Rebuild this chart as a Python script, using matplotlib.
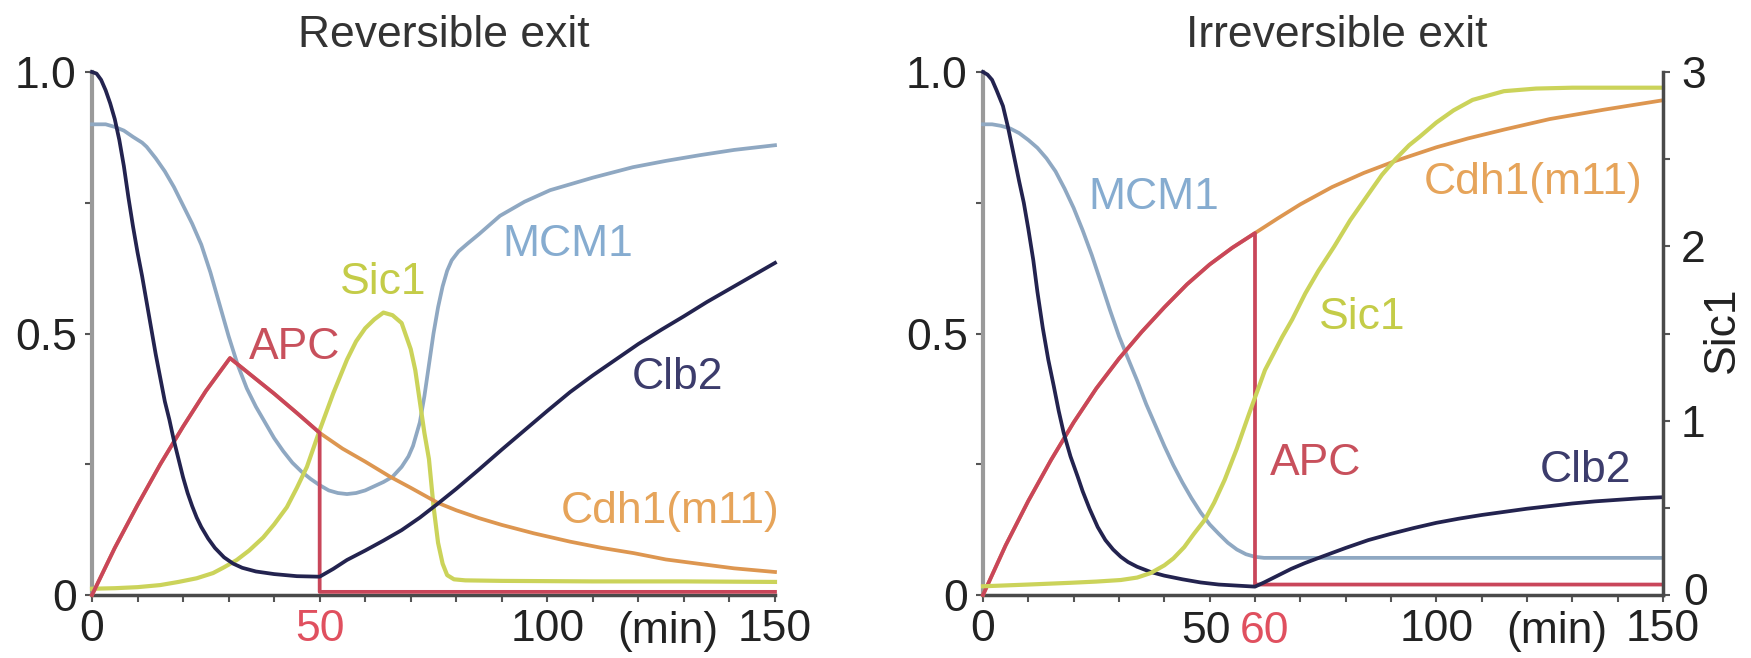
import numpy as np
import matplotlib.pyplot as plt
from matplotlib.transforms import blended_transform_factory, ScaledTranslation

plt.rcParams['font.family'] = ['Liberation Sans', 'DejaVu Sans']
plt.rcParams['font.size'] = 32

# ---------------- Reversible exit (left panel) ----------------
rev_clb2_t = [0, 1, 2, 3, 4, 5, 6, 7, 8, 9, 10, 11, 12, 13, 14, 15, 16, 17, 18, 19, 20,
              21, 22, 23, 24, 25.5, 27, 29, 31, 33, 36, 40, 45, 50, 53, 56, 60, 64, 68,
              72, 76, 80, 85, 90, 95, 100, 105, 110, 115, 120, 125, 130, 135, 140, 145, 150]
rev_clb2 = [1.0, 0.997, 0.985, 0.965, 0.94, 0.91, 0.87, 0.82, 0.76, 0.705, 0.655, 0.61,
            0.56, 0.51, 0.46, 0.415, 0.37, 0.335, 0.295, 0.26, 0.225, 0.195, 0.17, 0.148,
            0.13, 0.108, 0.09, 0.072, 0.06, 0.052, 0.045, 0.04, 0.036, 0.035, 0.05, 0.067,
            0.085, 0.104, 0.124, 0.148, 0.175, 0.203, 0.24, 0.278, 0.315, 0.352, 0.388,
            0.42, 0.45, 0.48, 0.507, 0.533, 0.56, 0.585, 0.61, 0.635]

rev_mcm1_t = [0, 3, 5, 7, 9, 11, 12, 14, 16, 18, 20, 22, 24, 26, 28, 30, 32, 34, 36, 38,
              40, 42, 44, 46, 48, 50, 52, 54, 56, 58, 60, 62, 64, 66, 68, 69.5, 70.5, 72,
              73, 74, 75, 76, 77, 78, 79, 80.5, 82.5, 85, 89.6, 95, 100.6, 110, 118.8,
              126, 133.5, 141, 150]
rev_mcm1 = [0.90, 0.90, 0.895, 0.888, 0.876, 0.865, 0.857, 0.835, 0.81, 0.78, 0.745,
            0.71, 0.67, 0.617, 0.556, 0.495, 0.44, 0.395, 0.36, 0.33, 0.30, 0.275, 0.253,
            0.236, 0.222, 0.21, 0.20, 0.195, 0.193, 0.195, 0.20, 0.208, 0.216, 0.226,
            0.245, 0.265, 0.285, 0.33, 0.38, 0.44, 0.50, 0.55, 0.59, 0.62, 0.64, 0.657,
            0.672, 0.69, 0.725, 0.752, 0.774, 0.798, 0.818, 0.83, 0.841, 0.851, 0.86]

rev_sic1_t = [0, 5, 10, 15, 19, 23, 26.6, 29, 31.8, 34.5, 37.6, 40, 42.8, 45, 47.2, 50,
              53, 56, 58, 60, 62, 64, 66, 68, 70, 71, 72, 73, 74, 75, 76, 77, 78, 79.5,
              82, 90, 110, 130, 150]
rev_sic1 = [0.012, 0.013, 0.015, 0.019, 0.025, 0.032, 0.042, 0.053, 0.067, 0.085, 0.11,
            0.135, 0.168, 0.205, 0.245, 0.315, 0.386, 0.45, 0.485, 0.51, 0.527, 0.54,
            0.535, 0.52, 0.47, 0.43, 0.37, 0.31, 0.26, 0.17, 0.10, 0.06, 0.038, 0.03,
            0.028, 0.027, 0.026, 0.026, 0.025]

rev_apc_t = [0, 5, 10, 15, 20, 25, 30.3, 35, 40, 45, 50, 50, 60, 100, 150]
rev_apc = [0, 0.09, 0.172, 0.25, 0.322, 0.39, 0.453, 0.42, 0.385, 0.348, 0.31,
           0.006, 0.006, 0.006, 0.006]

rev_cdh1_t = [0, 5, 10, 15, 20, 25, 30.3, 35, 40, 45, 50, 55, 60, 65.5, 70, 76, 80, 85,
              90, 97, 105, 112, 119, 126, 133, 141, 150]
rev_cdh1 = [0, 0.09, 0.172, 0.25, 0.322, 0.39, 0.453, 0.42, 0.385, 0.348, 0.31, 0.28,
            0.255, 0.226, 0.205, 0.176, 0.162, 0.147, 0.134, 0.118, 0.102, 0.09, 0.08,
            0.068, 0.06, 0.051, 0.044]

# ---------------- Irreversible exit (right panel) ----------------
irr_clb2_t = [0, 1, 2, 3, 4.4, 5.5, 6.7, 8, 9, 10, 11.1, 12, 13.2, 14.4, 15.6, 16.7,
              17.8, 19.3, 20.9, 22, 23.5, 25.3, 27, 28.7, 30.4, 32, 34, 37, 40, 44, 48,
              52, 56, 60, 62, 65, 68, 71, 75, 80, 85, 90, 95, 100, 105, 110, 115, 120,
              125, 130, 135, 140, 145, 150]
irr_clb2 = [1.0, 0.995, 0.985, 0.965, 0.935, 0.895, 0.845, 0.79, 0.75, 0.70, 0.64, 0.58,
            0.51, 0.45, 0.40, 0.352, 0.31, 0.265, 0.226, 0.198, 0.165, 0.13, 0.105,
            0.087, 0.073, 0.063, 0.054, 0.044, 0.037, 0.03, 0.024, 0.02, 0.018, 0.016,
            0.024, 0.037, 0.05, 0.061, 0.074, 0.09, 0.105, 0.117, 0.128, 0.138, 0.146,
            0.153, 0.159, 0.165, 0.17, 0.175, 0.179, 0.182, 0.185, 0.187]

irr_mcm1_t = [0, 2, 4, 6, 8, 10, 12, 14, 16, 18, 20, 22, 24, 26, 28, 30, 32, 34, 36, 38,
              40, 42, 44, 46, 48, 50, 52, 54, 56, 58, 60, 62, 100, 150]
irr_mcm1 = [0.90, 0.90, 0.897, 0.892, 0.883, 0.87, 0.855, 0.835, 0.81, 0.777, 0.74,
            0.697, 0.65, 0.598, 0.545, 0.495, 0.452, 0.41, 0.365, 0.325, 0.285, 0.248,
            0.215, 0.185, 0.158, 0.135, 0.117, 0.10, 0.087, 0.078, 0.073, 0.071, 0.071,
            0.071]

irr_apc_t = [0, 5, 10, 15, 20, 25, 30, 35, 40, 45, 50, 55, 60, 60, 100, 150]
irr_apc = [0, 0.095, 0.18, 0.258, 0.33, 0.395, 0.452, 0.503, 0.55, 0.594, 0.632, 0.664,
           0.692, 0.02, 0.02, 0.02]

irr_cdh1_t = [0, 5, 10, 15, 20, 25, 30, 35, 40, 45, 50, 55, 60, 65, 70, 77, 84, 91, 100,
              107, 115, 125, 137, 150]
irr_cdh1 = [0, 0.095, 0.18, 0.258, 0.33, 0.395, 0.452, 0.503, 0.55, 0.594, 0.632, 0.664,
            0.692, 0.72, 0.747, 0.78, 0.807, 0.83, 0.856, 0.873, 0.89, 0.91, 0.928, 0.946]

# Sic1 on the right axis (0-3)
irr_sic1_t = [0, 10, 19.3, 25, 30.4, 34, 37, 40, 42, 44.4, 46.5, 48.9, 51, 53.3, 56,
              58.7, 62.2, 66, 68.2, 71.1, 74, 77.5, 81, 85.3, 88, 91, 94, 96.4, 100,
              103.8, 108, 114.9, 122, 130, 150]
irr_sic1 = [0.05, 0.06, 0.07, 0.077, 0.086, 0.10, 0.126, 0.17, 0.21, 0.275, 0.35, 0.43,
            0.53, 0.66, 0.84, 1.04, 1.29, 1.48, 1.58, 1.73, 1.86, 2.0, 2.15, 2.31, 2.41,
            2.5, 2.58, 2.63, 2.71, 2.78, 2.84, 2.89, 2.905, 2.91, 2.91]

# ---------------- ticks / labels ----------------
x_ticks = list(range(0, 151, 10))
rev_x_labels = {0: '0', 50: '50', 100: '100', 150: '150'}
irr_x_labels = {0: '0', 100: '100', 150: '150'}
y_ticks = [0, 0.25, 0.5, 0.75, 1.0]
y_labels = {0: '0', 0.5: '0.5', 1.0: '1.0'}
sic1_ticks = [0, 0.5, 1, 1.5, 2, 2.5, 3]
sic1_labels = {0: '0', 1: '1', 2: '2', 3: '3'}

C_CLB2 = '#23234f'
C_MCM1 = '#8fa8c2'
C_SIC1 = '#cbd35a'
C_APC = '#c9465a'
C_CDH1 = '#dd9650'
C_RED_TXT = '#e0505f'

fig = plt.figure(figsize=(17.51, 6.58), dpi=100)
ax1 = fig.add_axes([0.05254, 0.09574, 0.39006, 0.79483])
ax2 = fig.add_axes([0.56139, 0.09574, 0.38835, 0.79483])
ax2r = ax2.twinx()

LW = 2.7


def style_axes(ax, xlab):
    ax.set_xlim(0, 150)
    ax.set_ylim(0, 1)
    for s in ['top', 'right']:
        ax.spines[s].set_visible(False)
    ax.spines['left'].set_color('#9a9a9a')
    ax.spines['left'].set_linewidth(3)
    ax.spines['bottom'].set_color('#4a4a4a')
    ax.spines['bottom'].set_linewidth(2.5)
    ax.set_xticks(x_ticks)
    ax.set_xticklabels([xlab.get(t, '') for t in x_ticks])
    ax.set_yticks(y_ticks)
    ax.set_yticklabels([y_labels.get(t, '') for t in y_ticks])
    ax.tick_params(axis='both', direction='out', length=5, width=1.5,
                   color='#555555', labelsize=32, labelcolor='#222222')
    ax.tick_params(axis='x', pad=5)
    ax.tick_params(axis='y', pad=6)
    ax.text(126.5, -0.03, '(min)', transform=blended_transform_factory(ax.transData, ax.transAxes),
            ha='center', va='top', fontsize=32, color='#222222')


style_axes(ax1, rev_x_labels)
style_axes(ax2, irr_x_labels)

# red "50" on the left panel
for lab in ax1.get_xticklabels():
    if lab.get_text() == '50':
        lab.set_color(C_RED_TXT)

# 50 / 60 drawn separately on the right panel (they would overlap)
tr2 = blended_transform_factory(ax2.transData, ax2.transAxes)
ax2.text(49.3, -0.03, '50', transform=tr2, ha='center', va='top', fontsize=32, color='#222222')
ax2.text(62.2, -0.03, '60', transform=tr2, ha='center', va='top', fontsize=32, color=C_RED_TXT)

# ---- left curves ----
ax1.plot(rev_mcm1_t, rev_mcm1, color=C_MCM1, lw=LW, clip_on=False, zorder=3)
ax1.plot(rev_sic1_t, rev_sic1, color=C_SIC1, lw=LW + 0.3, clip_on=False, zorder=3)
ax1.plot(rev_cdh1_t, rev_cdh1, color=C_CDH1, lw=LW, clip_on=False, zorder=4)
ax1.plot(rev_apc_t, rev_apc, color=C_APC, lw=LW, clip_on=False, zorder=5)
ax1.plot(rev_clb2_t, rev_clb2, color=C_CLB2, lw=LW, clip_on=False, zorder=6)

ax1.text(104.5, 0.67, 'MCM1', color='#86acd0', ha='center', va='center')
ax1.text(63.9, 0.597, 'Sic1', color='#c4cc48', ha='center', va='center')
ax1.text(44.6, 0.474, 'APC', color='#c8505c', ha='center', va='center')
ax1.text(128.5, 0.415, 'Clb2', color='#3c3c6c', ha='center', va='center')
ax1.text(127, 0.159, 'Cdh1(m11)', color='#e6a45a', ha='center', va='center')

# ---- right curves ----
ax2.plot(irr_mcm1_t, irr_mcm1, color=C_MCM1, lw=LW, clip_on=False, zorder=3)
ax2.plot(irr_cdh1_t, irr_cdh1, color=C_CDH1, lw=LW, clip_on=False, zorder=4)
ax2.plot(irr_apc_t, irr_apc, color=C_APC, lw=LW, clip_on=False, zorder=5)
ax2.plot(irr_clb2_t, irr_clb2, color=C_CLB2, lw=LW, clip_on=False, zorder=6)

ax2r.plot(irr_sic1_t, irr_sic1, color=C_SIC1, lw=LW + 0.3, clip_on=False)
ax2r.set_ylim(0, 3)
ax2r.set_xlim(0, 150)
for s in ['top', 'left', 'bottom']:
    ax2r.spines[s].set_visible(False)
ax2r.spines['right'].set_color('#4a4a4a')
ax2r.spines['right'].set_linewidth(2.5)
ax2r.set_yticks(sic1_ticks)
ax2r.set_yticklabels([sic1_labels.get(t, '') for t in sic1_ticks])
ax2r.tick_params(axis='y', direction='out', length=5, width=1.5, color='#555555',
                 labelsize=32, labelcolor='#222222', pad=8)
ax2r.text(1.087, 0.507, 'Sic1', transform=ax2r.transAxes, rotation=90,
          ha='center', va='center', fontsize=32, color='#222222')

# lift the right-hand "0" a little so it clears "150" (as in the original)
zero_lab = ax2r.yaxis.get_major_ticks()[0].label2
zero_lab.set_transform(zero_lab.get_transform() + ScaledTranslation(0.02, 0.06, fig.dpi_scale_trans))

ax2.text(37.6, 0.761, 'MCM1', color='#86acd0', ha='center', va='center')
ax2.text(121.3, 0.788, 'Cdh1(m11)', color='#e6a45a', ha='center', va='center')
ax2.text(83.7, 0.53, 'Sic1', color='#c4cc48', ha='center', va='center')
ax2.text(73.3, 0.252, 'APC', color='#c8505c', ha='center', va='center')
ax2.text(133, 0.239, 'Clb2', color='#3c3c6c', ha='center', va='center')

fig.text(444 / 1751, 1 - 47 / 658, 'Reversible exit', ha='center', va='baseline',
         fontsize=32, color='#333333')
fig.text(1337 / 1751, 1 - 47 / 658, 'Irreversible exit', ha='center', va='baseline',
         fontsize=32, color='#333333')

fig.savefig('out.png', dpi=100)
